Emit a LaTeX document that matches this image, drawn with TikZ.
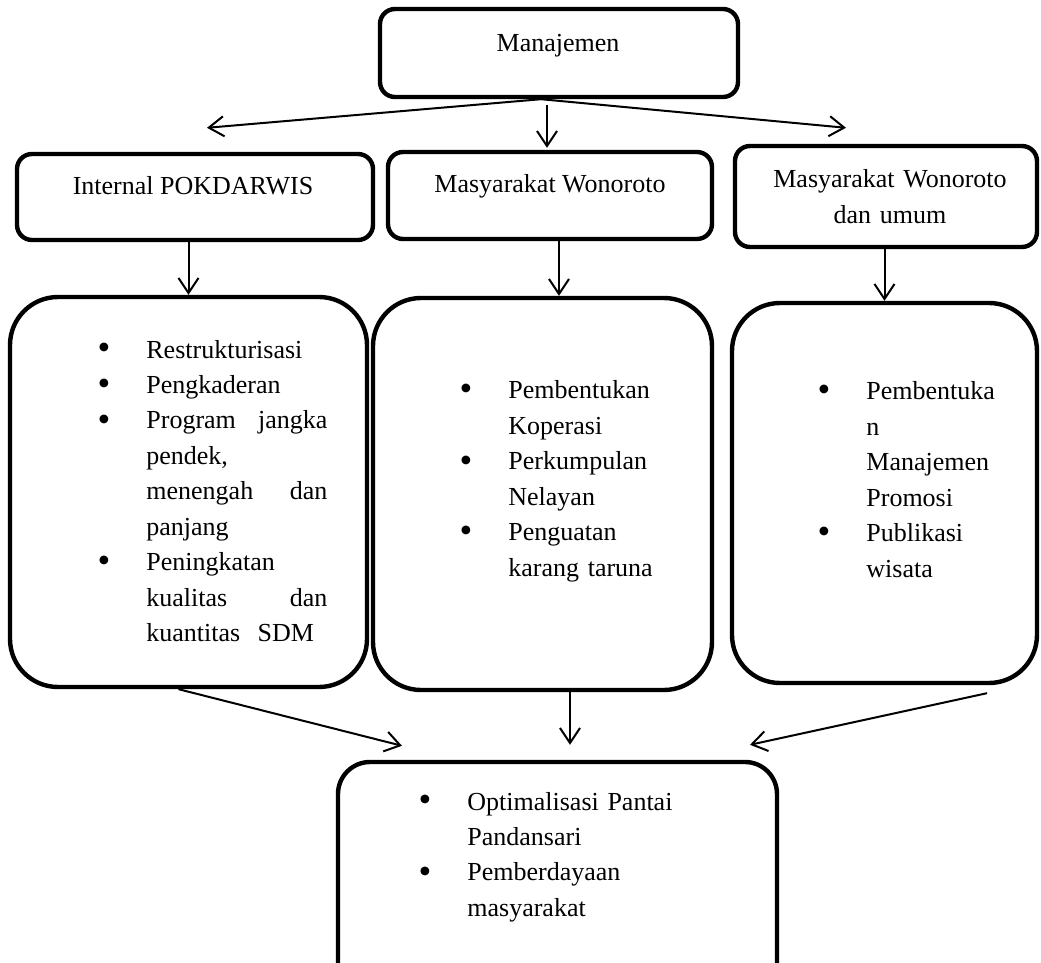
\documentclass[tikz,border=0pt]{standalone}
\usepackage{fontspec}
\setmainfont{Liberation Serif}
\usepackage{graphicx}
\usetikzlibrary{arrows.meta}
\tikzset{box/.style={draw, line width=2.2pt, rounded corners=7.5pt, inner sep=0pt},
  bigbox/.style={draw, line width=2.2pt, rounded corners=24pt, inner sep=0pt},
  arr/.style={-{Straight Barb[length=7.5pt,width=10pt]}, line width=1pt},
  txt/.style={inner sep=0pt, font=\fontsize{13}{17.75}\selectfont},
  lst/.style={txt, anchor=base west, text width=#1, align=left}}
\newcommand{\bul}{\leavevmode\llap{\raisebox{-1pt}{\scalebox{1.4}{\textbullet}}\hspace{18pt}}}
\newcommand{\jline}[2]{\makebox[90.5pt][l]{#1\hfill #2}} % justified line of the left list

\begin{document}
\begin{tikzpicture}[x=0.5pt, y=-0.5pt]
\useasboundingbox (0,0) rectangle (1041,963);
% boxes
\node[box, minimum width=179pt, minimum height=44pt] (manaj) at (559,53) {};
\node[box, minimum width=178pt, minimum height=43pt] (intern) at (195,197) {};
\node[box, minimum width=162pt, minimum height=43.5pt] (masy) at (550,195.5) {};
\node[box, minimum width=151pt, minimum height=50.5pt] (umum) at (886,196.5) {};
\node[bigbox, minimum width=178.5pt, minimum height=195pt] (progint) at (188.5,492) {};
\node[bigbox, minimum width=169.5pt, minimum height=196pt] (progmasy) at (542.5,494) {};
\node[bigbox, minimum width=152.5pt, minimum height=190pt] (progumum) at (884.5,493) {};
\node[bigbox, rounded corners=16pt, minimum width=219.5pt, minimum height=119pt] (hasil) at (557.5,881) {};

% texts
\node[txt, anchor=base] (tmanaj) at (558,52) {Manajemen};
\node[txt, anchor=base] (tintern) at (193,195) {Internal POKDARWIS};
\node[txt, anchor=base] (tmasy) at (550,193) {Masyarakat Wonoroto};
\node[txt, anchor=base, text width=150pt, align=center] (tumum) at (890,188) {Masyarakat Wonoroto\\dan umum};
\node[lst=90.5pt] (tprogint) at (146,358) {\bul Restrukturisasi\\
  \bul Pengkaderan\\
  \bul\jline{Program}{jangka}\\
  pendek,\\
  \jline{menengah}{dan}\\
  panjang\\
  \bul Peningkatan\\
  \jline{kualitas}{dan}\\
  kuantitas\ \ SDM};
\node[lst=100pt] (tprogmasy) at (508,399) {\bul Pembentukan\\
  Koperasi\\
  \bul Perkumpulan\\
  Nelayan\\
  \bul Penguatan\\
  karang taruna};
\node[lst=100pt] (tprogumum) at (866,400) {\bul Pembentuka\\
  n\\
  Manajemen\\
  Promosi\\
  \bul Publikasi\\
  wisata};
\node[lst=150pt] (thasil) at (467,810) {\bul Optimalisasi Pantai\\
  Pandansari\\
  \bul Pemberdayaan\\
  masyarakat};

% arrows
\draw[arr] ([xshift=-9pt]manaj.south) -- ([shift={(6pt,12pt)}]intern.north);
\draw[arr] ([xshift=-9pt]manaj.south) -- ([shift={(-20pt,8pt)}]umum.north);
\draw[arr] ([shift={(-6pt,-3pt)}]manaj.south) -- ([shift={(-1.5pt,1pt)}]masy.north);
\draw[arr] (progint.north |- intern.south) -- (progint.north);
\draw[arr] ([xshift=4.5pt]masy.south) -- ([xshift=4.5pt]masy.south |- progmasy.north);
\draw[arr] (progumum.north |- umum.south) -- (progumum.north);
\draw[arr] ([xshift=-5pt]progint.south) -- ([shift={(-77.75pt,7pt)}]hasil.north);
\draw[arr] ([xshift=13.75pt]progmasy.south) -- ([xshift=13.75pt,yshift=7.5pt]progmasy.south |- hasil.north);
\draw[arr] ([shift={(51.25pt,-4pt)}]progumum.south) -- ([shift={(96.25pt,7.5pt)}]hasil.north);
\end{tikzpicture}
\end{document}
